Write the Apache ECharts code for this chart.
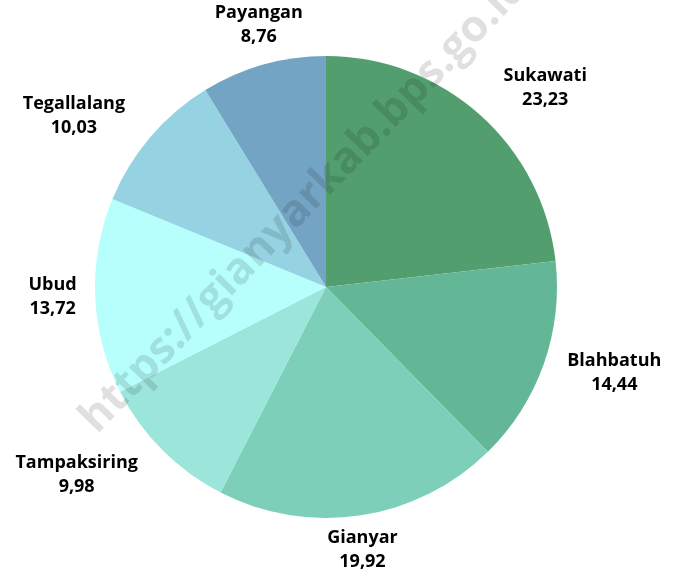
<!DOCTYPE html>
<html>
<head>
<meta charset="utf-8">
<script src="https://cdn.jsdelivr.net/npm/echarts@6/dist/echarts.min.js"></script>
<style>
  html, body { margin: 0; padding: 0; background: #fff; }
  #chart { width: 680px; height: 577px; }
</style>
</head>
<body>
<div id="chart"></div>
<script>
const kecamatan = ['Sukawati', 'Blahbatuh', 'Gianyar', 'Tampaksiring', 'Ubud', 'Tegallalang', 'Payangan']
const persen = [23.23, 14.44, 19.92, 9.98, 13.72, 10.03, 8.76]
const warna = ['#529E6F', '#63B797', '#7ECFB9', '#9BE5DB', '#B7FFFD', '#95D3E2', '#74A4C3']

let myChart = echarts.init(document.getElementById('chart'))

const cx = 326
const cy = 287
const r = 231

let data = []
for (let i = 0; i < kecamatan.length; i++) {
  data.push({ name: kecamatan[i], value: persen[i], itemStyle: { color: warna[i] } })
}

// sudut tengah tiap irisan (searah jarum jam dari atas)
let total = persen.reduce((a, b) => a + b, 0)
let midAngle = []
let acc = 0
for (let i = 0; i < persen.length; i++) {
  midAngle.push((acc + persen[i] / 2) / total * Math.PI * 2)
  acc += persen[i]
}

// jarak titik pusat ke kotak label
function boxDist (left, top, w, h) {
  let dx = Math.max(left - cx, 0, cx - (left + w))
  let dy = Math.max(top - cy, 0, cy - (top + h))
  return Math.sqrt(dx * dx + dy * dy)
}

let option = {
  animation: false,
  graphic: [{
    type: 'text',
    x: 88,
    y: 426,
    rotation: 0.80,
    z: 100,
    style: {
      text: 'https://gianyarkab.bps.go.id',
      fontFamily: 'Open Sans',
      fontWeight: 'bold',
      fontSize: 44,
      fill: 'rgba(0,0,0,0.12)',
      align: 'left',
      verticalAlign: 'middle'
    }
  }],
  series: [{
    type: 'pie',
    center: [cx, cy],
    radius: r,
    startAngle: 90,
    clockwise: true,
    label: {
      show: true,
      position: 'outside',
      overflow: 'none',
      fontFamily: 'Open Sans',
      fontWeight: 'bold',
      fontSize: 18,
      lineHeight: 24,
      color: '#000',
      formatter: function (p) {
        return p.name + '\n' + p.value.toFixed(2).replace('.', ',')
      }
    },
    labelLine: { show: false },
    labelLayout: function (params) {
      let a = midAngle[params.dataIndex]
      let ux = Math.sin(a)
      let uy = -Math.cos(a)
      let w = params.labelRect.width
      let h = params.labelRect.height
      let vertical = Math.abs(ux) < 0.3
      let gap = vertical ? 8 : 18
      let R = r
      let left, top
      for (; R < r + 200; R += 0.5) {
        let px = cx + ux * R
        let py = cy + uy * R
        if (vertical) {
          left = px - w / 2
          top = uy > 0 ? py : py - h
        } else {
          left = ux > 0 ? px : px - w
          top = py - h / 2
        }
        if (boxDist(left, top, w, h) >= r + gap) break
      }
      return {
        x: left + w / 2,
        y: top + h / 2,
        align: 'center',
        verticalAlign: 'middle'
      }
    },
    emphasis: { disabled: true },
    data: data
  }]
}

option && myChart.setOption(option)
</script>
</body>
</html>
